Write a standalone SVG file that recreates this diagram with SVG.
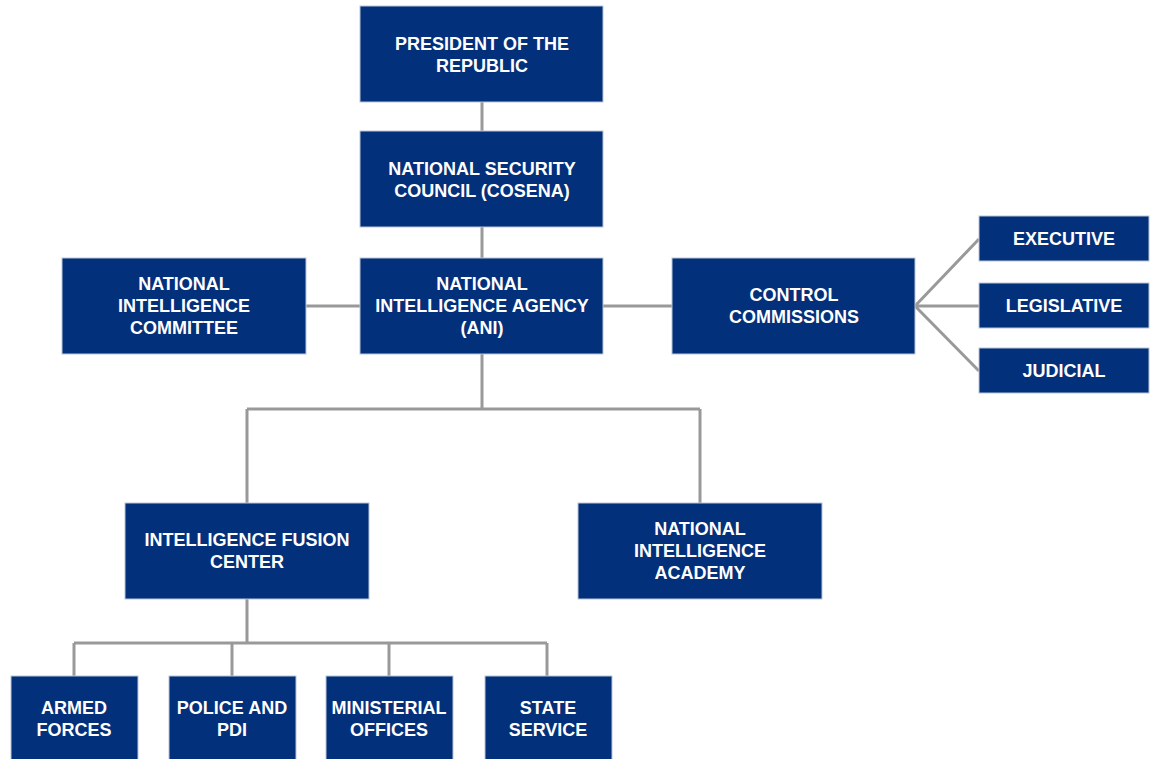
<svg xmlns="http://www.w3.org/2000/svg" width="1150" height="759" viewBox="0 0 1150 759">
<style>
.b{fill:#03307a;stroke:#b9c4d8;stroke-width:1}
.t{font-family:"Liberation Sans",Arial,sans-serif;font-weight:bold;font-size:18px;fill:#ffffff;text-anchor:middle}
.c{stroke:#999999;stroke-width:3;fill:none}
</style>
<rect width="1150" height="759" fill="#ffffff"/>
<g id="connectors">
<path class="c" d="M482,102V131M482,227V258M306,306H360M603,306H672M482,354V409M247,409H700M247,409V503M700,409V503M247,599V643M74,643H547M74,643V676M232,643V676M389,643V676M547,643V676"/>
<path class="c" d="M915,306L979,239M915,306H979M915,306L979,371" stroke-width="2.5"/>
</g>
<g id="president"><rect class="b" x="360" y="6" width="243" height="96"/><text class="t" x="482" y="50">PRESIDENT OF THE</text><text class="t" x="482" y="72">REPUBLIC</text></g>
<g id="cosena"><rect class="b" x="360" y="131" width="243" height="96"/><text class="t" x="482" y="175">NATIONAL SECURITY</text><text class="t" x="482" y="197">COUNCIL (COSENA)</text></g>
<g id="ani"><rect class="b" x="360" y="258" width="243" height="96"/><text class="t" x="482" y="290">NATIONAL</text><text class="t" x="482" y="312">INTELLIGENCE AGENCY</text><text class="t" x="482" y="334">(ANI)</text></g>
<g id="committee"><rect class="b" x="62" y="258" width="244" height="96"/><text class="t" x="184" y="290">NATIONAL</text><text class="t" x="184" y="312">INTELLIGENCE</text><text class="t" x="184" y="334">COMMITTEE</text></g>
<g id="control"><rect class="b" x="672" y="258" width="243" height="96"/><text class="t" x="794" y="301">CONTROL</text><text class="t" x="794" y="323">COMMISSIONS</text></g>
<g id="executive"><rect class="b" x="979" y="216" width="170" height="45"/><text class="t" x="1064" y="245">EXECUTIVE</text></g>
<g id="legislative"><rect class="b" x="979" y="283" width="170" height="45"/><text class="t" x="1064" y="312">LEGISLATIVE</text></g>
<g id="judicial"><rect class="b" x="979" y="348" width="170" height="45"/><text class="t" x="1064" y="377">JUDICIAL</text></g>
<g id="fusion"><rect class="b" x="125" y="503" width="244" height="96"/><text class="t" x="247" y="546">INTELLIGENCE FUSION</text><text class="t" x="247" y="568">CENTER</text></g>
<g id="academy"><rect class="b" x="578" y="503" width="244" height="96"/><text class="t" x="700" y="535">NATIONAL</text><text class="t" x="700" y="557">INTELLIGENCE</text><text class="t" x="700" y="579">ACADEMY</text></g>
<g id="armed"><rect class="b" x="11" y="676" width="127" height="90"/><text class="t" x="74" y="714">ARMED</text><text class="t" x="74" y="736">FORCES</text></g>
<g id="police"><rect class="b" x="169" y="676" width="127" height="90"/><text class="t" x="232" y="714">POLICE AND</text><text class="t" x="232" y="736">PDI</text></g>
<g id="ministerial"><rect class="b" x="326" y="676" width="127" height="90"/><text class="t" x="389" y="714">MINISTERIAL</text><text class="t" x="389" y="736">OFFICES</text></g>
<g id="state"><rect class="b" x="485" y="676" width="127" height="90"/><text class="t" x="548" y="714">STATE</text><text class="t" x="548" y="736">SERVICE</text></g>
</svg>
